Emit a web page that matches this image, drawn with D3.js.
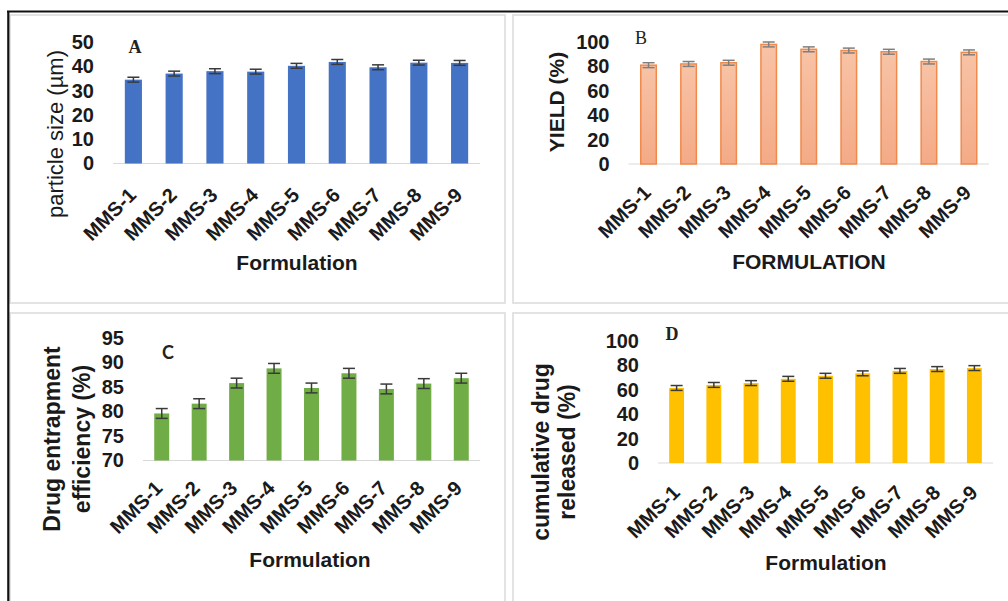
<!DOCTYPE html>
<html>
<head>
<meta charset="utf-8">
<script src="https://cdn.jsdelivr.net/npm/d3@7/dist/d3.min.js"></script>
<style>
  html, body { margin: 0; padding: 0; background: #fff; }
  svg { display: block; font-family: "Liberation Sans", Arial, sans-serif; }
</style>
</head>
<body>
<svg id="chart" width="1008" height="601"></svg>
<script>
// Formulations shared by all four panels
const categories = ["MMS-1", "MMS-2", "MMS-3", "MMS-4", "MMS-5", "MMS-6", "MMS-7", "MMS-8", "MMS-9"];

// A: particle size (µm)
const particleSize = [34.5, 37, 38, 37.8, 40.2, 41.8, 39.6, 41.5, 41.4];
const particleSizeErr = [1, 1, 1, 1, 1, 1, 1, 1, 1];
const particleTicks = [0, 10, 20, 30, 40, 50];

// B: yield (%)
const yieldPct = [81, 82, 83, 98, 94, 93, 92, 84, 91.5];
const yieldErr = [2, 2, 2, 2, 2, 2, 2, 2, 2];
const yieldTicks = [0, 20, 40, 60, 80, 100];

// C: drug entrapment efficiency (%)
const entrapment = [79.6, 81.6, 85.8, 88.8, 84.8, 87.8, 84.6, 85.7, 86.8];
const entrapmentErr = [1, 1, 1, 1, 1, 1, 1, 1, 1];
const entrapmentTicks = [70, 75, 80, 85, 90, 95];

// D: cumulative drug released (%)
const released = [61.5, 64, 65.5, 69, 71.5, 73.5, 75.5, 77, 77.8];
const releasedErr = [2, 2, 2, 2, 2, 2, 2, 2, 2];
const releasedTicks = [0, 20, 40, 60, 80, 100];

const svg = d3.select("#chart");

// gradient fill for the yield bars
const defs = svg.append("defs");
const grad = defs.append("linearGradient")
  .attr("id", "yieldFill").attr("x1", 0).attr("y1", 0).attr("x2", 0).attr("y2", 1);
grad.append("stop").attr("offset", "0%").attr("stop-color", "#f8c3a6");
grad.append("stop").attr("offset", "100%").attr("stop-color", "#f4aa86");

// panel frames
const frames = [
  { x: 10, y: 15, w: 495, h: 288 },
  { x: 513, y: 15, w: 500, h: 288 },
  { x: 10, y: 313, w: 495, h: 300 },
  { x: 513, y: 313, w: 500, h: 300 }
];
svg.selectAll("rect.frame").data(frames).join("rect")
  .attr("class", "frame")
  .attr("x", d => d.x).attr("y", d => d.y)
  .attr("width", d => d.w).attr("height", d => d.h)
  .attr("fill", "none").attr("stroke", "#dcdcdc").attr("stroke-width", 1.6);

// outer dark edge along the top and left
svg.append("line").attr("x1", 7).attr("x2", 1008).attr("y1", 11.5).attr("y2", 11.5)
  .attr("stroke", "#111").attr("stroke-width", 2);
svg.append("line").attr("x1", 8.3).attr("x2", 8.3).attr("y1", 11).attr("y2", 601)
  .attr("stroke", "#111").attr("stroke-width", 2.2);

function drawPanel(p) {
  const g = svg.append("g");
  const x = d3.scaleBand().domain(categories).range(p.xRange)
    .paddingInner(p.padding).paddingOuter(p.padding / 2);
  const y = d3.scaleLinear().domain(p.domain).range(p.yRange);

  // baseline
  g.append("line")
    .attr("x1", p.xRange[0]).attr("x2", p.xRange[1])
    .attr("y1", y(p.domain[0])).attr("y2", y(p.domain[0]))
    .attr("stroke", "#d9d9d9").attr("stroke-width", 1.2);

  // bars
  g.selectAll("rect.bar").data(p.values).join("rect")
    .attr("class", "bar")
    .attr("x", (d, i) => x(categories[i]) + (p.stroke ? 0.75 : 0))
    .attr("width", x.bandwidth() - (p.stroke ? 1.5 : 0))
    .attr("y", d => y(d))
    .attr("height", d => y(p.domain[0]) - y(d))
    .attr("fill", p.fill)
    .attr("stroke", p.stroke || "none")
    .attr("stroke-width", p.stroke ? 1.5 : 0);

  // error bars
  const eg = g.selectAll("g.err").data(p.values).join("g").attr("class", "err")
    .attr("stroke", p.errColor).attr("stroke-width", 1.5);
  eg.append("line")
    .attr("x1", (d, i) => x(categories[i]) + x.bandwidth() / 2)
    .attr("x2", (d, i) => x(categories[i]) + x.bandwidth() / 2)
    .attr("y1", (d, i) => y(d - p.err[i]))
    .attr("y2", (d, i) => y(d + p.err[i]));
  ["-", "+"].forEach(s => {
    eg.append("line")
      .attr("x1", (d, i) => x(categories[i]) + x.bandwidth() / 2 - 6)
      .attr("x2", (d, i) => x(categories[i]) + x.bandwidth() / 2 + 6)
      .attr("y1", (d, i) => y(s === "+" ? d + p.err[i] : d - p.err[i]))
      .attr("y2", (d, i) => y(s === "+" ? d + p.err[i] : d - p.err[i]));
  });

  // y axis (labels only)
  const ya = g.append("g")
    .attr("transform", `translate(${p.xRange[0]},0)`)
    .call(d3.axisLeft(y).tickValues(p.ticks).tickSize(0).tickPadding(19));
  ya.select(".domain").remove();
  ya.selectAll("text")
    .attr("font-family", "Liberation Sans, Arial, sans-serif")
    .attr("font-size", 20).attr("font-weight", "bold").attr("fill", "#1a1a1a");

  // x axis: rotated category labels
  const xa = g.append("g")
    .attr("transform", `translate(0,${y(p.domain[0])})`)
    .call(d3.axisBottom(x).tickSize(0).tickPadding(0));
  xa.select(".domain").remove();
  xa.selectAll("text")
    .attr("font-family", "Liberation Sans, Arial, sans-serif")
    .attr("font-size", 20).attr("font-weight", "bold").attr("fill", "#1a1a1a")
    .attr("text-anchor", "end")
    .attr("dy", 0)
    .attr("y", 0)
    .attr("transform", `translate(${p.labelDx},${p.labelDrop}) rotate(-45)`);

  // y title
  const yt = g.append("text")
    .attr("transform", `translate(${p.yTitleX},${p.yTitleY}) rotate(-90)`)
    .attr("text-anchor", "middle")
    .attr("font-size", p.yTitleSize).attr("font-weight", p.yTitleWeight)
    .attr("fill", "#1a1a1a");
  p.yTitle.forEach((line, i) => {
    yt.append("tspan").attr("x", 0)
      .attr("dy", i === 0 ? (0.35 - (p.yTitle.length - 1) * p.lineGap / 2 / p.yTitleSize) + "em" : p.lineGap)
      .text(line);
  });

  // x title
  g.append("text")
    .attr("x", p.xTitleX).attr("y", p.xTitleY).attr("dy", "0.35em")
    .attr("text-anchor", "middle")
    .attr("font-size", 21).attr("font-weight", "bold").attr("fill", "#1a1a1a")
    .text(p.xTitle);

  // panel letter
  g.append("text")
    .attr("x", p.letterX).attr("y", p.letterY).attr("dy", "0.35em")
    .attr("text-anchor", "middle")
    .attr("font-family", p.letterFont)
    .attr("font-size", 18).attr("font-weight", p.letterWeight).attr("fill", "#222")
    .text(p.letter);
}

drawPanel({
  values: particleSize, err: particleSizeErr, ticks: particleTicks,
  domain: [0, 50], xRange: [113, 480], yRange: [163.5, 42], padding: 0.58,
  fill: "#4472c4", errColor: "#3a3a3a", labelDrop: 33, labelDx: 4,
  yTitle: ["particle size (µm)"], yTitleX: 55, yTitleY: 134, yTitleSize: 22, yTitleWeight: "normal", lineGap: 0,
  xTitle: "Formulation", xTitleX: 297, xTitleY: 263,
  letter: "A", letterX: 135, letterY: 47, letterFont: "Liberation Serif, serif", letterWeight: "bold"
});

drawPanel({
  values: yieldPct, err: yieldErr, ticks: yieldTicks,
  domain: [0, 100], xRange: [628.5, 989], yRange: [164, 42], padding: 0.575,
  fill: "url(#yieldFill)", stroke: "#f08a4b", errColor: "#7f7f7f", labelDrop: 30, labelDx: 3.5,
  yTitle: ["YIELD (%)"], yTitleX: 557, yTitleY: 102, yTitleSize: 21, yTitleWeight: "bold", lineGap: 0,
  xTitle: "FORMULATION", xTitleX: 809, xTitleY: 262,
  letter: "B", letterX: 641, letterY: 38, letterFont: "Liberation Serif, serif", letterWeight: "normal"
});

drawPanel({
  values: entrapment, err: entrapmentErr, ticks: entrapmentTicks,
  domain: [70, 95], xRange: [143, 480], yRange: [460.5, 338], padding: 0.6,
  fill: "#70ad47", errColor: "#3a3a3a", labelDrop: 29, labelDx: 2,
  yTitle: ["Drug entrapment", "efficiency (%)"], yTitleX: 67, yTitleY: 439, yTitleSize: 23, yTitleWeight: "bold", lineGap: 30,
  xTitle: "Formulation", xTitleX: 310, xTitleY: 560,
  letter: "C", letterX: 168, letterY: 353, letterFont: "Lato, sans-serif", letterWeight: "bold"
});

drawPanel({
  values: released, err: releasedErr, ticks: releasedTicks,
  domain: [0, 100], xRange: [658, 993], yRange: [463, 341], padding: 0.6,
  fill: "#ffc000", errColor: "#3a3a3a", labelDrop: 31, labelDx: 4.5,
  yTitle: ["cumulative drug", "released (%)"], yTitleX: 554, yTitleY: 452, yTitleSize: 23, yTitleWeight: "bold", lineGap: 26,
  xTitle: "Formulation", xTitleX: 826, xTitleY: 563,
  letter: "D", letterX: 672, letterY: 334, letterFont: "Liberation Serif, serif", letterWeight: "bold"
});
</script>
</body>
</html>
